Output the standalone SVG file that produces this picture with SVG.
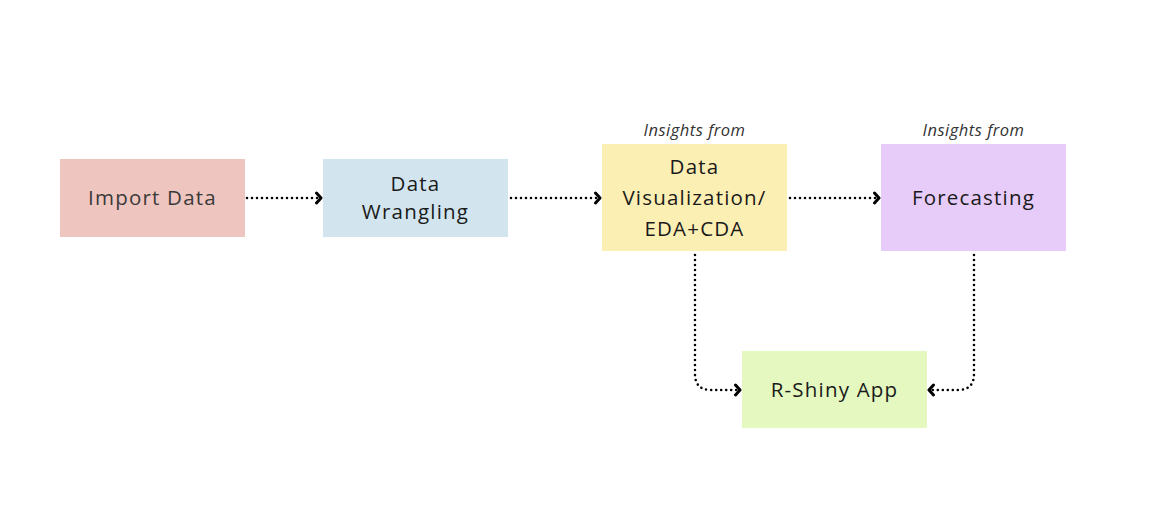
<svg xmlns="http://www.w3.org/2000/svg" width="1158" height="518" viewBox="0 0 1158 518">
<style>
.lbl{font-family:"Open Sans","Noto Sans",sans-serif;font-size:20.5px;fill:#1a1a1a;text-anchor:middle;letter-spacing:1.2px}
.note{font-family:"Open Sans","Noto Sans",sans-serif;font-size:16.5px;font-style:italic;fill:#333;text-anchor:middle;letter-spacing:0.5px}
.con{fill:none;stroke:#000;stroke-width:2.6;stroke-linecap:round;stroke-dasharray:0 5}
</style>
<defs>
<marker id="arr" markerWidth="12" markerHeight="14" refX="7" refY="7" orient="auto" markerUnits="userSpaceOnUse">
<path d="M2.5,2 L7,7 L2.5,12" fill="none" stroke="#000" stroke-width="3" stroke-linecap="round" stroke-linejoin="round"/>
</marker>
</defs>
<rect width="1158" height="518" fill="#fff"/>
<g id="import-data"><rect x="60" y="159" width="185" height="78" fill="#efc5bf"/><text class="lbl" x="152.5" y="205" style="fill:#3a3a3a">Import Data</text></g>
<g id="data-wrangling"><rect x="323" y="159" width="185" height="78" fill="#d2e5ef"/><text class="lbl" x="415.5" y="191">Data</text><text class="lbl" x="415.5" y="219">Wrangling</text></g>
<g id="data-viz"><text class="note" x="694.5" y="136">Insights from</text><rect x="602" y="144" width="185" height="107" fill="#fcefb4"/><text class="lbl" x="694.5" y="174">Data</text><text class="lbl" x="694.5" y="205">Visualization/</text><text class="lbl" x="694.5" y="236">EDA+CDA</text></g>
<g id="forecasting"><text class="note" x="973.5" y="136">Insights from</text><rect x="881" y="144" width="185" height="107" fill="#e7ccf9"/><text class="lbl" x="973.5" y="205">Forecasting</text></g>
<g id="r-shiny"><rect x="742" y="351" width="185" height="77" fill="#e4f8c0"/><text class="lbl" x="834.5" y="397">R-Shiny App</text></g>
<g id="connectors">
<path class="con" d="M247,198 H321" marker-end="url(#arr)"/>
<path class="con" d="M511,198 H600" marker-end="url(#arr)"/>
<path class="con" d="M790,198 H879" marker-end="url(#arr)"/>
<path class="con" d="M695,255 V374 Q695,390 711,390 H740" marker-end="url(#arr)"/>
<path class="con" d="M974,255 V374 Q974,390 958,390 H929" marker-end="url(#arr)"/>
</g>
</svg>
